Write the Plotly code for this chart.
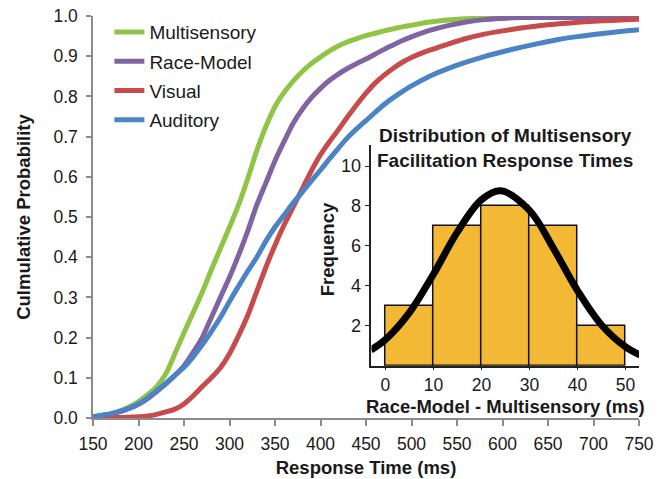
import plotly.graph_objects as go

# ---------------- data ----------------
times = [150, 160, 170, 180, 190, 200, 210, 220, 230, 240, 250, 260, 270, 280, 290,
         300, 310, 320, 330, 340, 350, 360, 370, 380, 390, 400, 410, 420, 430, 440,
         450, 460, 470, 480, 490, 500, 520, 540, 560, 580, 600, 620, 640, 660, 680,
         700, 720, 740, 750]

multisensory = [0.003, 0.005, 0.010, 0.018, 0.028, 0.041, 0.058, 0.078, 0.110, 0.160,
                0.212, 0.262, 0.313, 0.368, 0.422, 0.475, 0.530, 0.595, 0.665, 0.725,
                0.775, 0.810, 0.838, 0.862, 0.882, 0.898, 0.913, 0.926, 0.936, 0.944,
                0.951, 0.957, 0.963, 0.968, 0.973, 0.977, 0.985, 0.990, 0.993, 0.995,
                0.996, 0.996, 0.996, 0.996, 0.996, 0.996, 0.996, 0.996, 0.996]

race_model = [0.003, 0.006, 0.010, 0.016, 0.024, 0.034, 0.048, 0.066, 0.085, 0.106,
              0.130, 0.163, 0.200, 0.250, 0.300, 0.350, 0.405, 0.465, 0.530, 0.585,
              0.640, 0.688, 0.733, 0.768, 0.797, 0.820, 0.840, 0.856, 0.870, 0.882,
              0.893, 0.905, 0.917, 0.928, 0.939, 0.948, 0.964, 0.976, 0.985, 0.991,
              0.994, 0.996, 0.996, 0.996, 0.996, 0.996, 0.996, 0.996, 0.996]

visual = [0.001, 0.001, 0.001, 0.001, 0.002, 0.003, 0.005, 0.009, 0.015, 0.022,
          0.035, 0.055, 0.078, 0.100, 0.125, 0.160, 0.205, 0.255, 0.315, 0.375,
          0.430, 0.480, 0.525, 0.570, 0.615, 0.655, 0.688, 0.718, 0.750, 0.780,
          0.808, 0.833, 0.853, 0.870, 0.885, 0.897, 0.915, 0.930, 0.944, 0.955,
          0.963, 0.970, 0.976, 0.980, 0.984, 0.987, 0.989, 0.991, 0.992]

auditory = [0.003, 0.007, 0.011, 0.017, 0.025, 0.035, 0.050, 0.068, 0.086, 0.106,
            0.126, 0.152, 0.182, 0.215, 0.250, 0.290, 0.328, 0.365, 0.400, 0.440,
            0.475, 0.505, 0.535, 0.562, 0.590, 0.617, 0.645, 0.672, 0.698, 0.720,
            0.740, 0.760, 0.780, 0.797, 0.812, 0.826, 0.850, 0.869, 0.885, 0.899,
            0.911, 0.922, 0.932, 0.941, 0.948, 0.954, 0.959, 0.964, 0.966]

series_names = ["Multisensory", "Race-Model", "Visual", "Auditory"]
series_colors = ["#90C447", "#8064A2", "#C84B4B", "#4A84C6"]

bin_centers = [5, 15, 25, 35, 45]
bin_counts = [3, 7, 8, 7, 2]

curve_x = [-3, 0, 5, 10, 15, 20, 24, 30, 35, 40, 45, 50, 53]
curve_y = [0.79, 1.31, 2.66, 4.58, 6.70, 8.31, 8.76, 7.78, 5.87, 3.76, 2.04, 0.94, 0.54]

x_ticks = list(range(150, 751, 50))
y_ticks = [i / 10 for i in range(11)]
inset_x_ticks = [0, 10, 20, 30, 40, 50]
inset_y_ticks = [2, 4, 6, 8, 10]

FONT = "Liberation Sans, Arial, sans-serif"

fig = go.Figure()

for name, vals, col in zip(series_names, [multisensory, race_model, visual, auditory], series_colors):
    fig.add_trace(go.Scatter(x=times, y=vals, mode="lines", name=name,
                             line=dict(color=col, width=5, shape="spline", smoothing=0.8),
                             legendgroup=name, xaxis="x", yaxis="y"))

fig.add_trace(go.Bar(x=bin_centers, y=bin_counts, width=10,
                     marker=dict(color="#F3B935", line=dict(color="#111111", width=1.5)),
                     showlegend=False, xaxis="x2", yaxis="y2"))
fig.add_trace(go.Scatter(x=curve_x, y=curve_y, mode="lines",
                         line=dict(color="black", width=7, shape="spline"),
                         showlegend=False, xaxis="x2", yaxis="y2"))

axis_gray = "#8C8C8C"
fig.update_layout(
    width=667, height=479,
    margin=dict(l=93, r=28, t=16, b=61, autoexpand=False),
    paper_bgcolor="white", plot_bgcolor="rgba(0,0,0,0)",
    font=dict(family=FONT, size=17, color="#1a1a1a"),
    showlegend=True,
    legend=dict(x=0.03, y=1.007, xanchor="left", yanchor="top",
                bgcolor="rgba(0,0,0,0)", font=dict(size=19, family=FONT, color="#1a1a1a"),
                tracegroupgap=1.5),
    xaxis=dict(range=[150, 750], tickvals=x_ticks, showgrid=False, zeroline=False,
               showline=True, linecolor=axis_gray, linewidth=1.5, automargin=False,
               ticks="outside", ticklen=6, tickcolor=axis_gray, tickwidth=1.5,
               tickfont=dict(size=17.5), ticklabelstandoff=3, ticklabeloverflow="allow",
               title=dict(text="<b>Response Time (ms)</b>", font=dict(size=18.5), standoff=8)),
    yaxis=dict(range=[0, 1], tickvals=y_ticks, tickformat=".1f", showgrid=False, zeroline=False,
               showline=True, linecolor=axis_gray, linewidth=1.5, automargin=False,
               ticks="outside", ticklen=5, tickcolor=axis_gray, tickwidth=1.5,
               tickfont=dict(size=17.5), ticklabelstandoff=5, ticklabeloverflow="allow",
               title=dict(text="<b>Culmulative Probability</b>", font=dict(size=18.5), standoff=18)),
    xaxis2=dict(domain=[0.510, 1.0], anchor="y2", range=[-2.9, 52.8], tickvals=inset_x_ticks,
                showgrid=False, zeroline=False, showline=True, linecolor="#222222", linewidth=1.5,
                automargin=False,
                ticks="outside", ticklen=3, tickcolor="#222222", tickfont=dict(size=17.5)),
    yaxis2=dict(domain=[0.130, 0.679], anchor="x2", range=[0, 11.05], tickvals=inset_y_ticks,
                showgrid=False, zeroline=False, showline=True, linecolor="#222222", linewidth=1.5,
                automargin=False,
                ticks="outside", ticklen=5, tickcolor="#222222", tickfont=dict(size=18)),
    bargap=0,
    annotations=[
        dict(text="<b>Distribution of Multisensory<br>Facilitation Response Times</b>",
             xref="paper", yref="paper", x=0.754, y=0.672, xanchor="center", yanchor="middle",
             showarrow=False, font=dict(size=19, family=FONT, color="#1a1a1a")),
        dict(text="<b>Race-Model - Multisensory (ms)</b>",
             xref="paper", yref="paper", x=0.756, y=0.028, xanchor="center", yanchor="middle",
             showarrow=False, font=dict(size=18.5, family=FONT, color="#1a1a1a")),
        dict(text="<b>Frequency</b>", textangle=-90,
             xref="paper", yref="paper", x=0.430, y=0.419, xanchor="center", yanchor="middle",
             showarrow=False, font=dict(size=18.5, family=FONT, color="#1a1a1a")),
    ],
)

fig.write_html("out.html", config={"displayModeBar": False},
               post_script="document.body.style.margin='0';")
